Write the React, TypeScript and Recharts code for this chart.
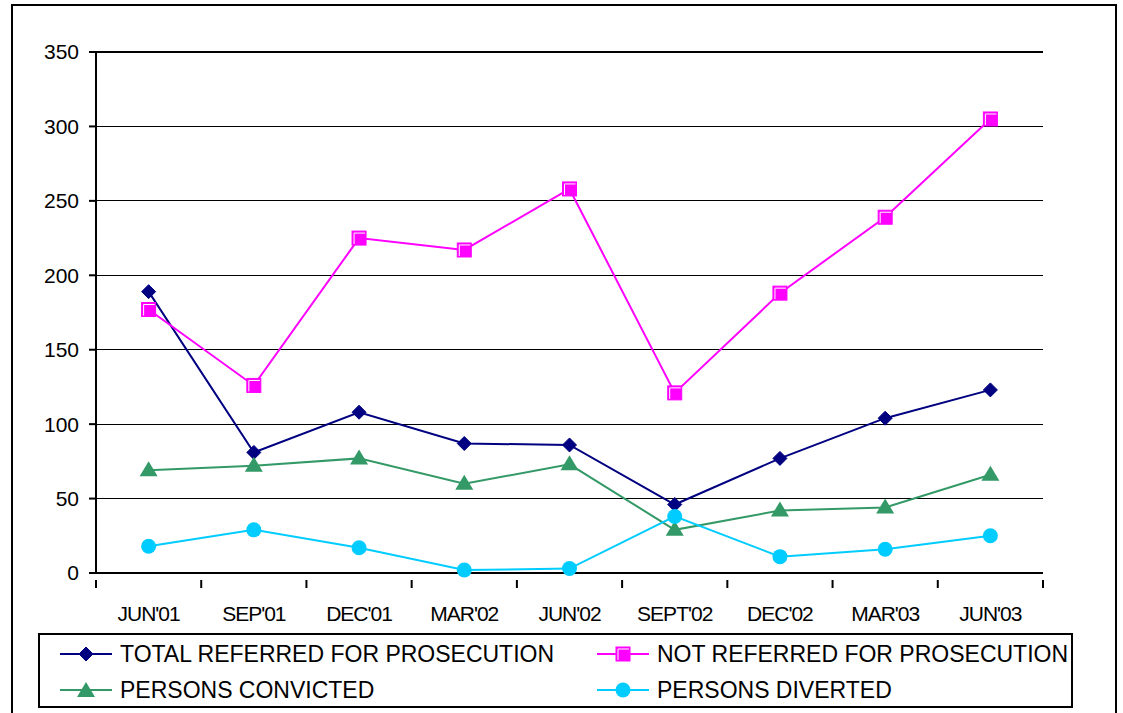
import React from 'react';
import { LineChart, Line, XAxis, YAxis, CartesianGrid, ReferenceLine } from 'recharts';

const quarters = ["JUN'01", "SEP'01", "DEC'01", "MAR'02", "JUN'02", "SEPT'02", "DEC'02", "MAR'03", "JUN'03"];
const totalReferred = [189, 81, 108, 87, 86, 46, 77, 104, 123];
const notReferred = [177, 126, 225, 217, 258, 121, 188, 239, 305];
const convicted = [69, 72, 77, 60, 73, 29, 42, 44, 66];
const diverted = [18, 29, 17, 2, 3, 38, 11, 16, 25];
const yTicks = [0, 50, 100, 150, 200, 250, 300, 350];

const seriesNames = {
  total: 'TOTAL REFERRED FOR PROSECUTION',
  not: 'NOT REFERRED FOR PROSECUTION',
  conv: 'PERSONS CONVICTED',
  div: 'PERSONS DIVERTED',
};

const colors = {
  total: '#000080',
  not: '#FF00FF',
  conv: '#339966',
  div: '#00CCFF',
};

const data = quarters.map((q, i) => ({
  q,
  total: totalReferred[i],
  not: notReferred[i],
  conv: convicted[i],
  div: diverted[i],
}));

const FONT = 'Arial, "Liberation Sans", sans-serif';
const W = 1123;
const H = 713;
const M = { top: 52, right: 80, left: 0, bottom: 100 };
const Y_W = 96;
const PLOT_W = W - M.right - Y_W;
const BAND = PLOT_W / quarters.length;

const Diamond = ({ cx, cy }: any) => (
  <polygon points={`${cx},${cy - 7} ${cx + 7},${cy} ${cx},${cy + 7} ${cx - 7},${cy}`} fill={colors.total} stroke={colors.total} strokeWidth={1} />
);
const Square = ({ cx, cy }: any) => (
  <g>
    <rect x={cx - 7} y={cy - 7} width={14} height={14} fill={colors.not} stroke={colors.not} strokeWidth={1} />
    <polyline points={`${cx - 5},${cy + 6} ${cx - 5},${cy - 5} ${cx + 6},${cy - 5}`} fill="none" stroke="#fff" strokeWidth={1} />
  </g>
);
const Triangle = ({ cx, cy }: any) => (
  <polygon points={`${cx},${cy - 9} ${cx + 9},${cy + 6} ${cx - 9},${cy + 6}`} fill={colors.conv} />
);
const Circle = ({ cx, cy }: any) => <circle cx={cx} cy={cy} r={7.5} fill={colors.div} />;

const dotFor = (key: string) => (props: any) => {
  const k = `${key}-${props.index}`;
  if (key === 'total') return <Diamond key={k} {...props} />;
  if (key === 'not') return <Square key={k} {...props} />;
  if (key === 'conv') return <Triangle key={k} {...props} />;
  return <Circle key={k} {...props} />;
};

const XTick = ({ x, y, payload, index }: any) => {
  const left = x - BAND / 2;
  return (
    <g>
      <line x1={left} y1={y - 1} x2={left} y2={y + 7} stroke="#000" strokeWidth={2} />
      {index === quarters.length - 1 && (
        <line x1={x + BAND / 2} y1={y - 1} x2={x + BAND / 2} y2={y + 7} stroke="#000" strokeWidth={2} />
      )}
      <text x={x} y={y + 40} textAnchor="middle" fontSize={21} letterSpacing={-1} fontFamily={FONT} fill="#000">
        {payload.value}
      </text>
    </g>
  );
};

const LegendIcon = ({ k }: { k: string }) => (
  <svg width={52} height={20} style={{ flex: 'none' }}>
    <line x1={0} y1={10} x2={52} y2={10} stroke={(colors as any)[k]} strokeWidth={2} />
    {k === 'total' && <Diamond cx={26} cy={10} />}
    {k === 'not' && <Square cx={26} cy={10} />}
    {k === 'conv' && <Triangle cx={26} cy={11} />}
    {k === 'div' && <Circle cx={26} cy={10} />}
  </svg>
);

const LegendItem = ({ k, left, top }: { k: string; left: number; top: number }) => (
  <div style={{ position: 'absolute', left, top, display: 'flex', alignItems: 'center', height: 24 }}>
    <LegendIcon k={k} />
    <span style={{ marginLeft: 8, fontSize: 23, fontFamily: FONT, color: '#000', whiteSpace: 'nowrap' }}>
      {(seriesNames as any)[k]}
    </span>
  </div>
);

export default function App() {
  return (
    <div style={{ position: 'absolute', left: 0, top: 0, width: W, height: H, overflow: 'hidden', background: '#fff' }}>
      <div style={{ position: 'absolute', left: 11, top: 4, width: 1106, height: 740, border: '2px solid #000', boxSizing: 'border-box' }} />
      <div style={{ position: 'absolute', left: 0, top: 0 }}>
        <LineChart width={W} height={H} data={data} margin={M}>
          <CartesianGrid yAxisId="left" horizontal vertical={false} stroke="#000" strokeWidth={1} shapeRendering="crispEdges" />
          <XAxis
            dataKey="q"
            scale="band"
            height={40}
            axisLine={{ stroke: '#000', strokeWidth: 2 }}
            tickLine={false}
            tick={<XTick />}
            interval={0}
          />
          <YAxis
            yAxisId="left"
            width={Y_W}
            domain={[0, 350]}
            ticks={yTicks}
            axisLine={{ stroke: '#000', strokeWidth: 2 }}
            tickLine={{ stroke: '#000', strokeWidth: 2 }}
            tickSize={7}
            tickMargin={10}
            tick={{ fontSize: 21, fontFamily: FONT, fill: '#000' }}
          />
          <YAxis
            yAxisId="right"
            orientation="right"
            width={0}
            domain={[0, 350]}
            tick={false}
            tickLine={false}
            axisLine={{ stroke: '#000', strokeWidth: 2 }}
          />
          <ReferenceLine yAxisId="left" y={350} stroke="#000" strokeWidth={2} />
          {(['total', 'not', 'conv', 'div'] as const).map((k) => (
            <Line
              key={k}
              yAxisId="left"
              type="linear"
              dataKey={k}
              name={seriesNames[k]}
              stroke={colors[k]}
              strokeWidth={2}
              dot={dotFor(k)}
              activeDot={false}
              isAnimationActive={false}
            />
          ))}
        </LineChart>
      </div>
      <div style={{ position: 'absolute', left: 38, top: 633, width: 1035, height: 75, border: '2px solid #000', boxSizing: 'border-box' }} />
      <LegendItem k="total" left={60} top={642} />
      <LegendItem k="not" left={597} top={642} />
      <LegendItem k="conv" left={60} top={678} />
      <LegendItem k="div" left={597} top={678} />
    </div>
  );
}
